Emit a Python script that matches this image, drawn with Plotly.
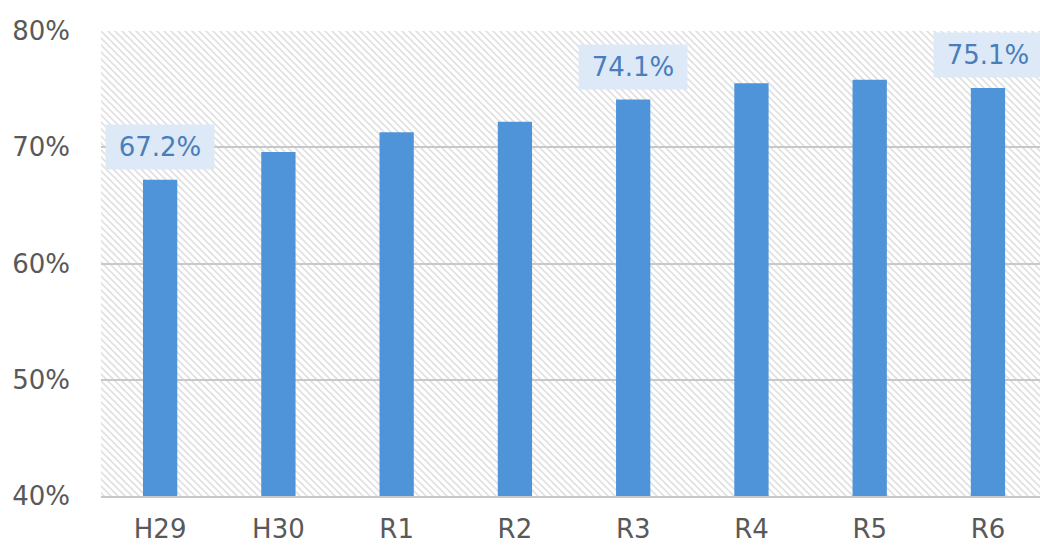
import base64
import plotly.graph_objects as go

categories = ["H29", "H30", "R1", "R2", "R3", "R4", "R5", "R6"]
values = [67.2, 69.6, 71.3, 72.2, 74.1, 75.5, 75.8, 75.1]
labeled = ["H29", "R3", "R6"]
y_ticks = [40, 50, 60, 70, 80]
y_tick_labels = ["40%", "50%", "60%", "70%", "80%"]

W, H = 1040, 545
ML, MR, MT, MB = 101, 0, 31, 49
pw, ph = W - ML - MR, H - MT - MB

svg = (
    f'<svg xmlns="http://www.w3.org/2000/svg" width="{pw}" height="{ph}" viewBox="0 0 {pw} {ph}">'
    '<defs><pattern id="p" width="7" height="7" patternUnits="userSpaceOnUse">'
    '<path d="M-1,-1 L8,8 M-1,6 L1,8 M6,-1 L8,1" stroke="#e0e0e0" stroke-width="1.6"/>'
    '</pattern></defs>'
    f'<rect width="{pw}" height="{ph}" fill="white"/>'
    f'<rect width="{pw}" height="{ph}" fill="url(#p)"/></svg>'
)
src = "data:image/svg+xml;base64," + base64.b64encode(svg.encode()).decode()

fig = go.Figure()
fig.add_trace(go.Bar(
    x=categories, y=values, base=0,
    marker=dict(color="#4f94d9", line=dict(width=0)),
    width=0.29,
    hoverinfo="x+y",
))

for c, v in zip(categories, values):
    if c in labeled:
        fig.add_annotation(
            x=c, y=v, xref="x", yref="y",
            text=f"{v:.1f}%", showarrow=False,
            yanchor="bottom", yshift=10,
            font=dict(family="DejaVu Sans", size=26, color="#4a7ebb"),
            bgcolor="#dde9f6", borderpad=2, width=104, height=40,
        )

fig.add_layout_image(
    source=src, xref="paper", yref="paper", x=0, y=1,
    sizex=1, sizey=1, sizing="stretch", xanchor="left", yanchor="top",
    layer="below",
)

fig.update_layout(
    width=W, height=H,
    margin=dict(l=ML, r=MR, t=MT, b=MB, pad=0, autoexpand=False),
    paper_bgcolor="white", plot_bgcolor="rgba(0,0,0,0)",
    showlegend=False,
    font=dict(family="DejaVu Sans", size=26, color="#595959"),
    xaxis=dict(
        range=[-0.5, 7.44], showgrid=False, zeroline=False, automargin=False,
        showline=True, linecolor="#c8c8c8", linewidth=2,
        ticks="", ticklabelstandoff=9,
        tickfont=dict(size=26, color="#595959"),
    ),
    yaxis=dict(
        range=[40, 80], tickvals=y_ticks, ticktext=y_tick_labels,
        showgrid=True, gridcolor="#c8c8c8", gridwidth=1.5, automargin=False,
        zeroline=False, showline=False, ticks="",
        ticklabelstandoff=30,
        tickfont=dict(size=26, color="#595959"),
    ),
)

fig.write_html(
    "out.html",
    config={"displayModeBar": False},
    post_script="document.body.style.margin='0';document.body.style.overflow='hidden';",
)
